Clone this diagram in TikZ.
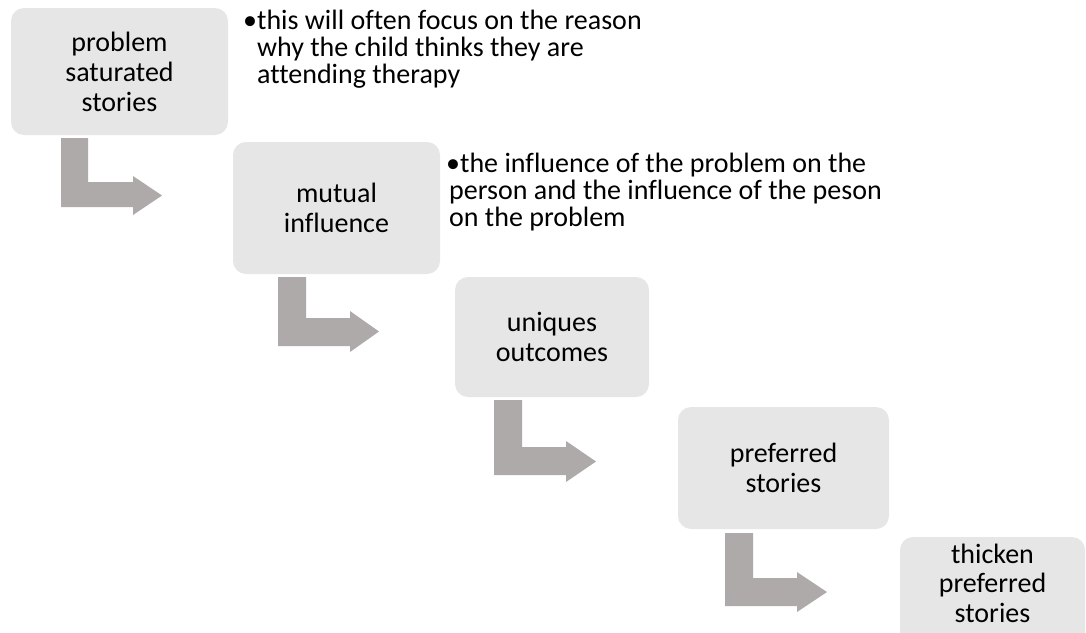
\documentclass[tikz,border=0pt]{standalone}
\usepackage{fontspec}
\setmainfont[Ligatures=NoCommon]{Carlito}
\definecolor{boxfill}{HTML}{E7E6E6}
\definecolor{arrowfill}{HTML}{AEAAAA}
\begin{document}
\begin{tikzpicture}[x=1pt,y=-1pt,
  stagebox/.style={fill=boxfill, rounded corners=13pt, inner sep=0pt, align=center,
    font=\fontsize{28}{30}\selectfont},
  boxtext/.style={anchor=base, inner sep=0pt, align=center,
    font=\fontsize{28}{29.5}\selectfont},
  bullettext/.style={anchor=base west, inner sep=0pt, align=left,
    font=\fontsize{28}{27}\selectfont},
  bentarrow/.style={fill=arrowfill}]
\useasboundingbox (0,0) rectangle (1086,632);
\clip (0,0) rectangle (1086,632);

\node[stagebox, minimum width=217pt, minimum height=127pt] (b1) at (119.5,71.5) {problem\\saturated\\stories};
\node[stagebox, minimum width=207pt, minimum height=132pt] (b2) at (336.5,208) {mutual\\influence};
\node[stagebox, minimum width=194pt, minimum height=120pt] (b3) at (552,337) {uniques\\outcomes};
\node[stagebox, minimum width=211pt, minimum height=122pt] (b4) at (783.5,468) {preferred\\stories};
\node[stagebox, minimum width=185pt, minimum height=108pt] (b5) at (992.5,591) {};
\node[boxtext] (t5) at (992.5,622) {thicken\\preferred\\stories};

\node[bullettext] (t1) at (243,83) {•this will often focus on the reason\\\phantom{•}why the child thinks they are\\\phantom{•}attending therapy};
\node[bullettext] (t2) at (446,226) {•the influence of the problem on the\\\hspace*{3pt}person and the influence of the peson\\\hspace*{3pt}on the problem};

\fill[bentarrow] (61,138) -- (88,138) -- (88,182) -- (133,182) -- (133,176) -- (162,195.5) -- (133,215) -- (133,207) -- (61,207) -- cycle;
\fill[bentarrow] (278,277) -- (306,277) -- (306,318) -- (350,318) -- (350,311) -- (379,331.5) -- (350,352) -- (350,346) -- (278,346) -- cycle;
\fill[bentarrow] (494,400) -- (522,400) -- (522,447) -- (566,447) -- (566,441) -- (596,461.5) -- (566,482) -- (566,475) -- (494,475) -- cycle;
\fill[bentarrow] (725,533) -- (753,533) -- (753,578) -- (797,578) -- (797,572) -- (827,592) -- (797,612) -- (797,606) -- (725,606) -- cycle;
\end{tikzpicture}
\end{document}
